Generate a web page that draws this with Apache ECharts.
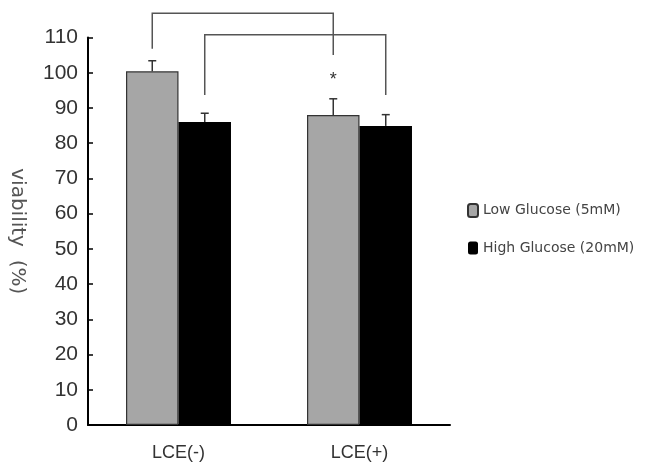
<!DOCTYPE html>
<html>
<head>
<meta charset="utf-8">
<script src="https://cdn.jsdelivr.net/npm/echarts@6/dist/echarts.min.js"></script>
<style>
    html, body { margin: 0; padding: 0; background: #fff; }
    #chart { width: 648px; height: 474px; }
</style>
</head>
<body>
<div id="chart"></div>
<script>
    // data
    var categories = ['LCE(-)', 'LCE(+)'];
    var lowGlucose = [100.4, 88.0];
    var highGlucose = [86.0, 84.9];
    var lowErrTop = [103.4, 92.6];
    var highErrTop = [88.5, 88.1];
    var yTicks = [0, 10, 20, 30, 40, 50, 60, 70, 80, 90, 100, 110];
    // brackets: [left cat, left series, right cat, right series, top, left leg end, right leg end]
    var brackets = [
        [0, 0, 1, 0, 116.9, 106.8, 105.0],
        [0, 1, 1, 1, 110.8, 93.7, 93.7]
    ];
    var starMark = [1, 0, 98.0];

    var BAR_FRAC = 0.29;
    var FONT = "'Liberation Sans', sans-serif";
    var WIDE = "'DejaVu Sans', sans-serif";

    var myChart = echarts.init(document.getElementById('chart'));

    // x centre of a bar (series 0 = left, 1 = right)
    function barX(api, cat, s) {
        var c = api.coord([cat, 0])[0];
        var w = api.size([1, 0])[0] * BAR_FRAC;
        return s === 0 ? c - w / 2 : c + w / 2;
    }

    function errorSeries(name, tops, s) {
        return {
            name: name + ' err',
            type: 'custom',
            silent: true,
            z: 3,
            data: tops.map(function (v, i) { return [i, v]; }),
            renderItem: function (params, api) {
                var cat = api.value(0);
                var x = barX(api, cat, s);
                var yTop = api.coord([cat, api.value(1)])[1];
                var yBase = api.coord([cat, (s === 0 ? lowGlucose : highGlucose)[cat]])[1];
                var st = { stroke: '#333', lineWidth: 1.5 };
                return {
                    type: 'group',
                    children: [
                        { type: 'line', shape: { x1: x, y1: yBase, x2: x, y2: yTop }, style: st },
                        { type: 'line', shape: { x1: x - 4, y1: yTop, x2: x + 4, y2: yTop }, style: st }
                    ]
                };
            }
        };
    }

    var option = {
        animation: false,
        backgroundColor: '#fff',
        grid: { left: 88, right: 198, top: 37.5, bottom: 49, containLabel: false, outerBoundsMode: 'none' },
        legend: {
            orient: 'vertical',
            left: 462,
            top: 198,
            itemWidth: 10,
            itemHeight: 13,
            itemGap: 23,
            textStyle: { color: '#444', fontSize: 14, fontFamily: WIDE },
            data: ['Low Glucose (5mM)', 'High Glucose (20mM)']
        },
        xAxis: {
            type: 'category',
            data: categories,
            axisLine: { lineStyle: { color: '#000', width: 2 } },
            axisTick: { inside: true, length: 5, lineStyle: { color: '#000', width: 1.5 } },
            axisLabel: { color: '#333', fontSize: 18, fontFamily: FONT, margin: 19 }
        },
        yAxis: {
            type: 'value',
            min: yTicks[0],
            max: yTicks[yTicks.length - 1],
            interval: 10,
            name: 'viability  (%)',
            nameLocation: 'middle',
            nameRotate: -90,
            nameGap: 61,
            nameTextStyle: { color: '#555', fontSize: 20, fontFamily: WIDE },
            splitLine: { show: false },
            axisLine: { show: true, lineStyle: { color: '#000', width: 2 } },
            axisTick: { show: true, inside: true, length: 5, lineStyle: { color: '#000', width: 1.5 } },
            axisLabel: { color: '#333', fontSize: 21, fontFamily: FONT, margin: 10 }
        },
        series: []
    };

    option.series.push({
        name: 'Low Glucose (5mM)',
        type: 'bar',
        barWidth: (BAR_FRAC * 100) + '%',
        barGap: '0%',
        itemStyle: { color: '#a6a6a6', borderColor: '#333', borderWidth: 1.2 },
        data: lowGlucose
    });
    option.series.push({
        name: 'High Glucose (20mM)',
        type: 'bar',
        barWidth: (BAR_FRAC * 100) + '%',
        barGap: '0%',
        itemStyle: { color: '#000' },
        data: highGlucose
    });
    option.series.push(errorSeries('low', lowErrTop, 0));
    option.series.push(errorSeries('high', highErrTop, 1));
    option.series.push({
        name: 'brackets',
        type: 'custom',
        silent: true,
        clip: false,
        z: 4,
        data: brackets,
        renderItem: function (params, api) {
            var b = brackets[params.dataIndex];
            var x1 = barX(api, b[0], b[1]);
            var x2 = barX(api, b[2], b[3]);
            var yT = api.coord([0, b[4]])[1];
            var yL = api.coord([0, b[5]])[1];
            var yR = api.coord([0, b[6]])[1];
            return {
                type: 'polyline',
                shape: { points: [[x1, yL], [x1, yT], [x2, yT], [x2, yR]] },
                style: { stroke: '#555', lineWidth: 1.5, fill: null }
            };
        }
    });
    option.series.push({
        name: 'star',
        type: 'custom',
        silent: true,
        clip: false,
        data: [starMark],
        renderItem: function (params, api) {
            var x = barX(api, starMark[0], starMark[1]);
            var y = api.coord([0, starMark[2]])[1];
            return {
                type: 'text',
                x: x,
                y: y,
                style: { text: '*', fill: '#333', fontSize: 18, fontFamily: FONT, align: 'center', verticalAlign: 'middle' }
            };
        }
    });

    myChart.setOption(option);
</script>
</body>
</html>
